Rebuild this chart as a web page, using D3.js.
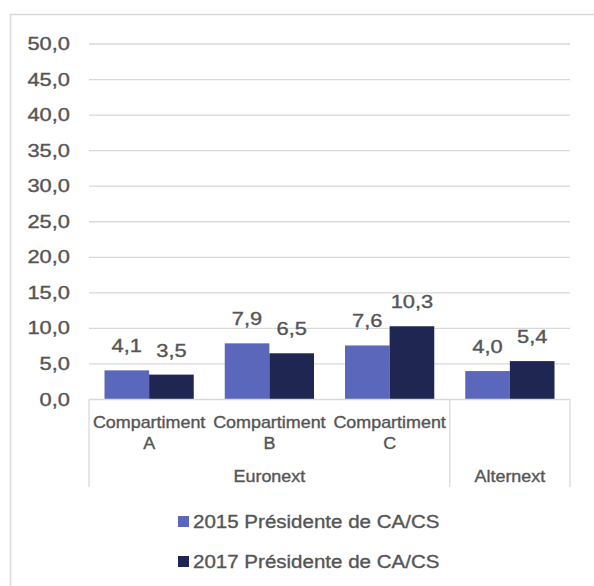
<!DOCTYPE html>
<html>
<head>
<meta charset="utf-8">
<script src="https://cdn.jsdelivr.net/npm/d3@7"></script>
<style>
  html, body { margin: 0; padding: 0; background: #fff; }
  svg { display: block; }
  text { font-family: "Liberation Sans", Arial, sans-serif; fill: #555555; stroke: #555555; stroke-width: 0.35px; }
</style>
</head>
<body>
<svg id="chart" width="594" height="586"></svg>
<script>
// ---- data ----
const categories = ["Compartiment A", "Compartiment B", "Compartiment C", "Alternext"];
const categoryLines = [["Compartiment", "A"], ["Compartiment", "B"], ["Compartiment", "C"], [""]];
const groups = ["Euronext", "Alternext"];
const groupSpans = [[0, 2], [3, 3]];
const series = ["2015 Présidente de CA/CS", "2017 Présidente de CA/CS"];
const values2015 = [4.1, 7.9, 7.6, 4.0];
const values2017 = [3.5, 6.5, 10.3, 5.4];
const yTicks = [0, 5, 10, 15, 20, 25, 30, 35, 40, 45, 50];
const colors = ["#5A67BA", "#1F2651"];

const fmt = v => d3.format(".1f")(v).replace(".", ",");

const svg = d3.select("#chart");

// outer border
svg.append("rect")
  .attr("x", 10.5).attr("y", 14.5)
  .attr("width", 600).attr("height", 600)
  .attr("fill", "none").attr("stroke", "#d9d9d9").attr("stroke-width", 1.5);

const x0 = d3.scaleBand().domain(categories).range([89, 570]).paddingInner(0).paddingOuter(0);
const x1 = d3.scaleBand().domain(series).range([15.5, x0.bandwidth() - 15.5]).padding(0);
const y = d3.scaleLinear().domain([0, 50]).range([399.5, 44]);

// gridlines
svg.append("g").selectAll("line").data(yTicks.filter(t => t > 0)).join("line")
  .attr("x1", 89).attr("x2", 570)
  .attr("y1", d => y(d)).attr("y2", d => y(d))
  .attr("stroke", "#d9d9d9").attr("stroke-width", 1.3);

// y tick labels
svg.append("g").selectAll("text").data(yTicks).join("text")
  .attr("transform", d => `translate(70,${y(d) + 6}) scale(1.25,1)`)
  .attr("text-anchor", "end")
  .style("font-size", "17.5px")
  .text(d => fmt(d));

// bars
const rows = categories.map((c, i) => ({ cat: c, vals: [values2015[i], values2017[i]] }));
const gBars = svg.append("g").selectAll("g").data(rows).join("g")
  .attr("transform", d => `translate(${x0(d.cat)},0)`);
gBars.selectAll("rect").data(d => d.vals.map((v, j) => ({ s: series[j], v, j }))).join("rect")
  .attr("x", d => x1(d.s))
  .attr("width", x1.bandwidth())
  .attr("y", d => y(d.v))
  .attr("height", d => y(0) - y(d.v))
  .attr("fill", d => colors[d.j]);
gBars.selectAll("text").data(d => d.vals.map((v, j) => ({ s: series[j], v, j }))).join("text")
  .attr("transform", d => `translate(${x1(d.s) + x1.bandwidth() / 2},${y(d.v) - 18}) scale(1.25,1)`)
  .attr("text-anchor", "middle")
  .style("font-size", "17.5px")
  .text(d => fmt(d.v));

// category axis line
svg.append("line")
  .attr("x1", 89).attr("x2", 570).attr("y1", 399.5).attr("y2", 399.5)
  .attr("stroke", "#d9d9d9").attr("stroke-width", 1.3);

// group separators (vertical)
const sepX = [x0(categories[0]), x0(categories[groupSpans[1][0]]), x0(categories[3]) + x0.bandwidth()];
svg.append("g").selectAll("line").data(sepX).join("line")
  .attr("x1", d => d).attr("x2", d => d)
  .attr("y1", 399.5).attr("y2", 487)
  .attr("stroke", "#d9d9d9").attr("stroke-width", 1.3);

// category labels
const catG = svg.append("g").selectAll("g").data(categories).join("g");
catG.each(function (c, i) {
  const lines = categoryLines[i];
  const cx = x0(c) + x0.bandwidth() / 2;
  d3.select(this).selectAll("text").data(lines).join("text")
    .attr("transform", (l, k) => `translate(${cx},${427.5 + k * 21.5}) scale(1.12,1)`)
    .attr("text-anchor", "middle")
    .style("font-size", "16px")
    .text(l => l);
});

// group labels
svg.append("g").selectAll("text").data(groups).join("text")
  .attr("transform", (g, i) => {
    const a = x0(categories[groupSpans[i][0]]);
    const b = x0(categories[groupSpans[i][1]]) + x0.bandwidth();
    return `translate(${(a + b) / 2},482) scale(1.12,1)`;
  })
  .attr("text-anchor", "middle")
  .style("font-size", "16px")
  .text(g => g);

// legend
const leg = svg.append("g").selectAll("g").data(series).join("g")
  .attr("transform", (s, i) => `translate(178,${516 + i * 40})`);
leg.append("rect").attr("width", 11).attr("height", 11).attr("fill", (s, i) => colors[i]);
leg.append("text")
  .attr("transform", "translate(15,12.3) scale(1.11,1)")
  .style("font-size", "18.5px")
  .text(s => s);
</script>
</body>
</html>
